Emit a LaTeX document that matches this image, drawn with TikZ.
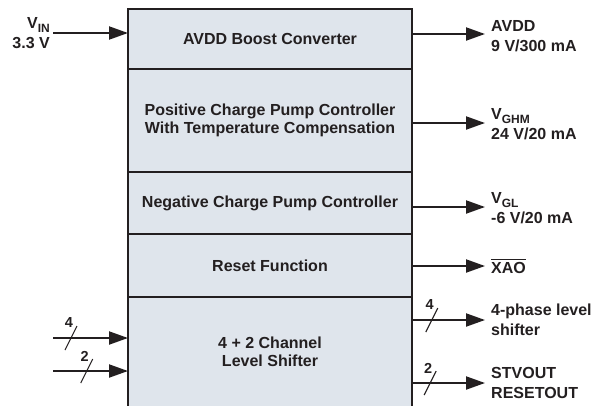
\documentclass[tikz,border=0pt]{standalone}
\usepackage{amsmath}
\usepackage{fontspec}
\setmainfont{Liberation Sans}
\usetikzlibrary{arrows.meta, positioning, calc}
\definecolor{tiFill}{HTML}{DFE5EC}
\definecolor{tiInk}{HTML}{231F20}
\newcommand{\busmark}[2]{%
  \draw[slash] ($(#1)+(-6,12)$) -- ($(#1)+(6,-12)$);
  \node[busnum] (#1num) at ($(#1)+(-2,-15)$) {#2};}
\newcommand{\sub}[1]{\raisebox{-0.45ex}{\fontsize{12}{12}\selectfont #1}}

\begin{document}
\begin{tikzpicture}[x=1pt, y=-1pt,
  block/.style={draw=tiInk, fill=tiFill, line width=2pt, minimum width=284pt, inner sep=0pt,
                outer sep=0pt, align=center, text=tiInk, font=\bfseries\fontsize{16}{18.5}\selectfont},
  lbl/.style={inner sep=0pt, text=tiInk, font=\bfseries\fontsize{16}{19.5}\selectfont},
  busnum/.style={inner sep=0pt, text=tiInk, font=\bfseries\fontsize{14.5}{14.5}\selectfont},
  arr/.style={-{Triangle[length=19pt, width=13pt]}, line width=2pt, draw=tiInk},
  slash/.style={line width=1.1pt, draw=tiInk}
]
\useasboundingbox (0,0) rectangle (601,405);
\clip (0,0) rectangle (601,405);

% stacked function blocks
\node[block, minimum height=60pt] (boost) at (270,39) {AVDD Boost Converter};
\node[block, below=0pt of boost, minimum height=103pt] (pos)
  {Positive Charge Pump Controller\\With Temperature Compensation};
\node[block, below=0pt of pos, minimum height=62pt] (neg) {Negative Charge Pump Controller};
\node[block, below=0pt of neg, minimum height=63pt] (rst) {Reset Function};
\node[block, below=0pt of rst, minimum height=110pt] (lvl) {4 + 2 Channel\\Level Shifter};

% input side
\node[lbl, anchor=east, align=right] (vin) at (50,33) {V\sub{IN}\\3.3 V};
\draw[arr, shorten <=3pt] (vin.east) -- (boost.west |- vin.east);
\coordinate (in4) at (53,338);
\coordinate (in2) at (53,371);
\draw[arr] (in4) -- coordinate[pos=0.24] (in4bus) (lvl.west |- in4);
\draw[arr] (in2) -- coordinate[pos=0.45] (in2bus) (lvl.west |- in2);
\busmark{in4bus}{4}
\busmark{in2bus}{2}

% output side
\node[lbl, anchor=west, align=left] (avdd) at (491,36) {AVDD\\9 V/300 mA};
\node[lbl, anchor=west, align=left] (vghm) at (491,124) {V\sub{GHM}\\24 V/20 mA};
\node[lbl, anchor=west, align=left] (vgl) at (491,208) {V\sub{GL}\\-6 V/20 mA};
\node[lbl, anchor=west, align=left] (xao) at (491,266) {$\overline{\textbf{XAO}}$};
\node[lbl, anchor=west, align=left] (ph4) at (491,320) {4-phase level\\shifter};
\node[lbl, anchor=west, align=left] (stv) at (491,383) {STVOUT\\RESETOUT};

\draw[arr, shorten >=6pt] (boost.east |- 0,34) -- (avdd.west |- 0,34);
\draw[arr, shorten >=6pt] (pos.east |- 0,123) -- (vghm.west |- 0,123);
\draw[arr, shorten >=6pt] (neg.east |- 0,207) -- (vgl.west |- 0,207);
\draw[arr, shorten >=6pt] (rst.east |- xao.west) -- (xao.west);
\draw[arr, shorten >=6pt] (lvl.east |- ph4.west) -- coordinate[pos=0.25] (out4bus) (ph4.west);
\draw[arr, shorten >=6pt] (lvl.east |- stv.west) -- coordinate[pos=0.23] (out2bus) (stv.west);
\busmark{out4bus}{4}
\busmark{out2bus}{2}
\end{tikzpicture}
\end{document}
